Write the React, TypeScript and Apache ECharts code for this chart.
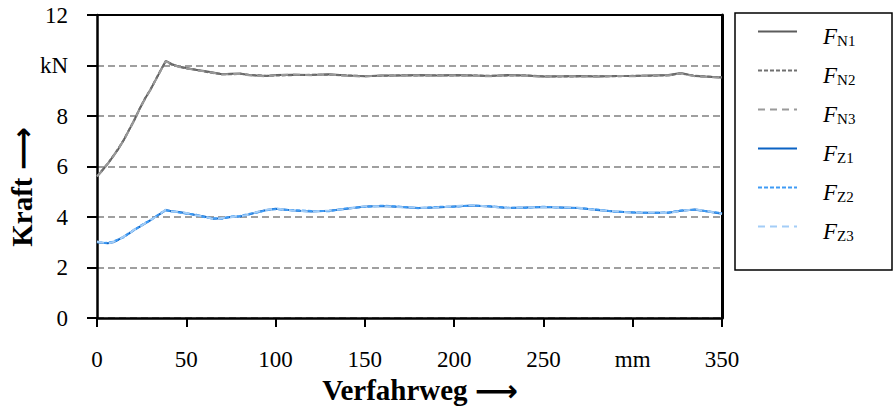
import React, { useEffect, useRef } from "react";
import * as echarts from "echarts";

const xs = [0, 3, 6, 9, 12, 15, 18, 21, 24, 27, 30, 33, 36, 38.5, 42, 46, 50, 55, 60, 65, 70, 75, 80, 85, 90, 95, 100, 110, 120, 130, 140, 150, 160, 170, 180, 190, 200, 210, 220, 230, 240, 250, 260, 270, 280, 290, 300, 310, 320, 327, 335, 350];

const fN1 = [5.6, 5.85, 6.1, 6.4, 6.7, 7.05, 7.45, 7.85, 8.3, 8.7, 9.05, 9.45, 9.85, 10.18, 10.05, 9.95, 9.9, 9.83, 9.78, 9.72, 9.65, 9.67, 9.68, 9.62, 9.6, 9.58, 9.62, 9.63, 9.62, 9.65, 9.6, 9.57, 9.6, 9.6, 9.62, 9.6, 9.62, 9.6, 9.58, 9.62, 9.6, 9.56, 9.57, 9.58, 9.56, 9.58, 9.58, 9.6, 9.62, 9.7, 9.58, 9.52];
const fN2 = [5.62, 5.86, 6.12, 6.41, 6.72, 7.06, 7.46, 7.86, 8.31, 8.71, 9.06, 9.46, 9.86, 10.16, 10.03, 9.96, 9.88, 9.84, 9.76, 9.7, 9.66, 9.65, 9.67, 9.63, 9.61, 9.59, 9.6, 9.62, 9.63, 9.63, 9.61, 9.58, 9.59, 9.61, 9.6, 9.61, 9.6, 9.61, 9.59, 9.6, 9.61, 9.57, 9.56, 9.57, 9.57, 9.57, 9.59, 9.59, 9.61, 9.68, 9.59, 9.53];
const fN3 = [5.61, 5.84, 6.11, 6.39, 6.71, 7.04, 7.44, 7.84, 8.29, 8.69, 9.04, 9.44, 9.84, 10.17, 10.04, 9.94, 9.89, 9.82, 9.77, 9.71, 9.64, 9.66, 9.66, 9.61, 9.59, 9.57, 9.61, 9.64, 9.61, 9.64, 9.59, 9.56, 9.61, 9.59, 9.61, 9.59, 9.61, 9.59, 9.57, 9.61, 9.59, 9.55, 9.58, 9.57, 9.55, 9.59, 9.57, 9.61, 9.6, 9.69, 9.57, 9.51];

const fZ1 = [3.02, 2.98, 2.96, 3.0, 3.1, 3.22, 3.35, 3.5, 3.62, 3.75, 3.88, 4.02, 4.15, 4.28, 4.22, 4.2, 4.15, 4.08, 4.02, 3.93, 3.95, 4.0, 4.02, 4.1, 4.2, 4.28, 4.33, 4.26, 4.22, 4.25, 4.33, 4.42, 4.44, 4.4, 4.36, 4.38, 4.42, 4.46, 4.42, 4.36, 4.38, 4.4, 4.38, 4.36, 4.28, 4.22, 4.18, 4.17, 4.17, 4.25, 4.3, 4.13];
const fZ2 = [3.0, 2.97, 2.98, 3.02, 3.12, 3.2, 3.37, 3.48, 3.64, 3.77, 3.86, 4.03, 4.17, 4.26, 4.24, 4.18, 4.13, 4.1, 4.0, 3.95, 3.93, 4.02, 4.04, 4.12, 4.18, 4.27, 4.31, 4.27, 4.24, 4.23, 4.35, 4.4, 4.45, 4.41, 4.35, 4.4, 4.41, 4.45, 4.43, 4.37, 4.36, 4.41, 4.37, 4.35, 4.3, 4.21, 4.19, 4.16, 4.18, 4.26, 4.29, 4.15];
const fZ3 = [3.03, 2.99, 2.95, 3.01, 3.09, 3.23, 3.34, 3.51, 3.61, 3.76, 3.89, 4.01, 4.16, 4.29, 4.21, 4.21, 4.16, 4.07, 4.03, 3.92, 3.96, 3.99, 4.03, 4.09, 4.21, 4.29, 4.34, 4.25, 4.21, 4.26, 4.32, 4.43, 4.43, 4.39, 4.37, 4.37, 4.43, 4.47, 4.41, 4.35, 4.39, 4.39, 4.39, 4.37, 4.27, 4.23, 4.17, 4.18, 4.16, 4.24, 4.31, 4.12];

const seriesNames = ["F_N1", "F_N2", "F_N3", "F_Z1", "F_Z2", "F_Z3"];
const seriesSubs = ["N1", "N2", "N3", "Z1", "Z2", "Z3"];
const yTickLabels: Record<number, string> = { 0: "0", 2: "2", 4: "4", 6: "6", 8: "8", 10: "kN", 12: "12" };
const xTickLabels: Record<number, string> = { 0: "0", 50: "50", 100: "100", 150: "150", 200: "200", 250: "250", 300: "mm", 350: "350" };
const yTitle = "Kraft";
const xTitle = "Verfahrweg";

const FONT = "'Liberation Serif', 'DejaVu Serif', serif";
const ARROW_FONT = "'DejaVu Sans', sans-serif";

function pairs(vals: number[]) {
  return xs.map((x, i) => [x, vals[i]]);
}

export default function App() {
  const ref = useRef<HTMLDivElement>(null);
  useEffect(() => {
    if (!ref.current) return;
    const chart = echarts.init(ref.current, undefined, { renderer: "svg" });
    const styles = [
      { color: "#5c5c5c", type: "solid" as any, width: 2 },
      { color: "#707070", type: [4, 2] as any, width: 2 },
      { color: "#9a9a9a", type: [7, 5] as any, width: 2 },
      { color: "#0b63c4", type: "solid" as any, width: 2 },
      { color: "#3f9bf5", type: [4, 2] as any, width: 2 },
      { color: "#a3cdf7", type: [7, 5] as any, width: 2 },
    ];
    const dataSets = [fN1, fN2, fN3, fZ1, fZ2, fZ3];
    const series = dataSets.map((d, i) => ({
      name: seriesNames[i],
      type: "line",
      xAxisIndex: 0,
      yAxisIndex: 0,
      data: pairs(d),
      symbol: "none",
      showSymbol: false,
      lineStyle: styles[i],
      itemStyle: { color: styles[i].color },
      z: 3,
    }));
    const titleRich = {
      t: { fontFamily: FONT, fontWeight: "bold", fontSize: 29, color: "#000" },
      a: { fontFamily: ARROW_FONT, fontWeight: "bold", fontSize: 30, color: "#000" },
    };
    chart.setOption({
      animation: false,
      backgroundColor: "#fff",
      grid: {
        left: 97,
        right: 172,
        top: 15,
        bottom: 88,
        show: false,
      },
      legend: {
        data: seriesNames,
        orient: "vertical",
        left: 757,
        top: 15,
        padding: 0,
        itemWidth: 39,
        itemHeight: 14,
        itemGap: 6,
        itemStyle: { opacity: 0, borderWidth: 0 },
        formatter: (name: string) => {
          const idx = seriesNames.indexOf(name);
          return `{f|F}{s|${seriesSubs[idx]}}`;
        },
        textStyle: {
          rich: {
            f: {
              fontFamily: FONT,
              fontStyle: "italic",
              fontSize: 23,
              lineHeight: 24,
              padding: [10, 0, 0, 21],
              color: "#000",
            },
            s: {
              fontFamily: FONT,
              fontSize: 15,
              lineHeight: 16,
              padding: [18, 0, 0, 0],
              color: "#000",
            },
          },
        },
      },
      xAxis: [
        {
          type: "value",
          min: 0,
          max: 350,
          interval: 50,
          axisLine: { lineStyle: { color: "#000", width: 2.5 } },
          axisTick: { show: true, length: 9, lineStyle: { color: "#000", width: 2 } },
          axisLabel: {
            margin: 30,
            fontFamily: FONT,
            fontSize: 23,
            color: "#000",
            formatter: (v: number) => xTickLabels[v] ?? String(v),
          },
          splitLine: { show: false },
        },
        {
          type: "value",
          position: "top",
          min: 0,
          max: 350,
          interval: 50,
          axisLine: { show: true, onZero: false, lineStyle: { color: "#000", width: 2 } },
          axisTick: { show: false },
          axisLabel: { show: false },
          splitLine: { show: false },
        },
      ],
      yAxis: [
        {
          type: "value",
          min: 0,
          max: 12,
          interval: 2,
          axisLine: { show: true, lineStyle: { color: "#000", width: 2.5 } },
          axisTick: { show: true, length: 10, lineStyle: { color: "#000", width: 2 } },
          axisLabel: {
            margin: 29,
            fontFamily: FONT,
            fontSize: 23,
            color: "#000",
            formatter: (v: number) => yTickLabels[v] ?? String(v),
          },
          splitLine: { show: true, lineStyle: { color: "#808080", width: 1.5, type: [7, 4] } },
        },
        {
          type: "value",
          position: "right",
          min: 0,
          max: 12,
          interval: 2,
          axisLine: { show: true, onZero: false, lineStyle: { color: "#000", width: 3 } },
          axisTick: { show: false },
          axisLabel: { show: false },
          splitLine: { show: false },
        },
      ],
      graphic: [
        {
          type: "rect",
          shape: { x: 735, y: 13, width: 157, height: 257 },
          style: { fill: "none", stroke: "#000", lineWidth: 1.5 },
        },
        {
          type: "text",
          x: 22,
          y: 187,
          rotation: Math.PI / 2,
          style: {
            text: `{t|${yTitle}}{t| }{a|\u27F6}`,
            rich: titleRich,
            textAlign: "center",
            textVerticalAlign: "middle",
          },
        },
        {
          type: "text",
          x: 420,
          y: 390,
          style: {
            text: `{t|${xTitle}}{t| }{a|\u27F6}`,
            rich: titleRich,
            textAlign: "center",
            textVerticalAlign: "middle",
          },
        },
      ],
      series,
    });
    return () => chart.dispose();
  }, []);
  return <div ref={ref} style={{ position: "fixed", left: 0, top: 0, width: 894, height: 406 }} />;
}
